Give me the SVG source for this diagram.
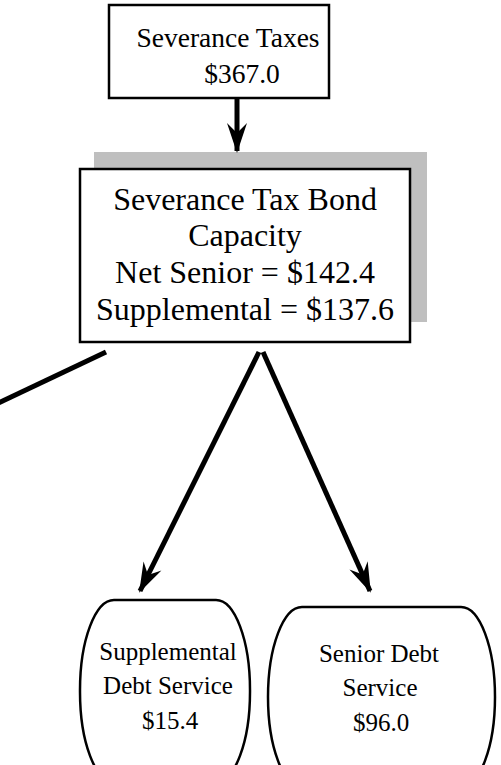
<svg xmlns="http://www.w3.org/2000/svg" width="501" height="765" viewBox="0 0 501 765">
<style>
.box{fill:#fff;stroke:#000;stroke-width:2.5}
.t{font-family:"Liberation Serif","Times New Roman",serif;fill:#000;text-anchor:middle}
.big{font-size:32px}
.top{font-size:27.5px}
.sm{font-size:25px}
.ln{stroke:#000;stroke-width:5;fill:none}
</style>
<defs>
<marker id="ah" markerUnits="userSpaceOnUse" markerWidth="30" markerHeight="22" viewBox="0 0 30 22" refX="28" refY="11" orient="auto">
<path d="M0,1 L30,11 L0,21 L10,11 z" fill="#000"/>
</marker>
</defs>
<rect width="501" height="765" fill="#fff"/>
<g id="severance-taxes">
<rect class="box" x="109" y="5" width="220" height="93"/>
<text class="t top" x="228" y="47">Severance Taxes</text>
<text class="t top" x="242" y="83">$367.0</text>
</g>
<g id="bond-capacity">
<rect x="94" y="152" width="333" height="170" fill="#bfbfbf"/>
<rect class="box" x="80" y="169" width="330" height="173"/>
<text class="t big" x="245" y="210">Severance Tax Bond</text>
<text class="t big" x="245" y="246">Capacity</text>
<text class="t big" x="245" y="283">Net Senior = $142.4</text>
<text class="t big" x="245" y="320">Supplemental = $137.6</text>
</g>
<g id="supplemental-debt">
<rect class="box" x="80" y="600" width="170" height="182" rx="34" ry="90"/>
<text class="t sm" x="168" y="660">Supplemental</text>
<text class="t sm" x="168" y="694">Debt Service</text>
<text class="t sm" x="170" y="729">$15.4</text>
</g>
<g id="senior-debt">
<rect class="box" x="268" y="607" width="227" height="180" rx="34" ry="90"/>
<text class="t sm" x="379" y="662">Senior Debt</text>
<text class="t sm" x="380" y="696">Service</text>
<text class="t sm" x="381" y="731">$96.0</text>
</g>
<g id="connectors">
<line class="ln" x1="237" y1="98" x2="237" y2="151" marker-end="url(#ah)"/>
<line class="ln" x1="106" y1="352" x2="-12" y2="408"/>
<line class="ln" x1="259" y1="352" x2="140" y2="591" marker-end="url(#ah)"/>
<line class="ln" x1="263" y1="352" x2="370" y2="591" marker-end="url(#ah)"/>
</g>
</svg>
